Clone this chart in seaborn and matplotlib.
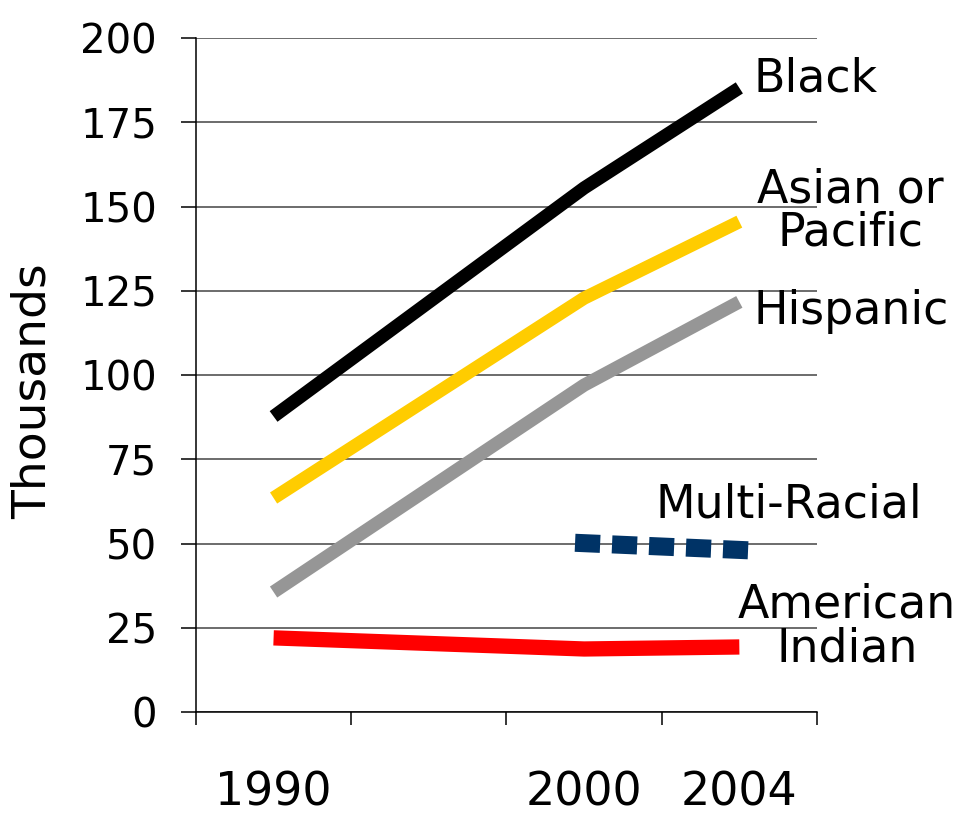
import matplotlib
matplotlib.use("Agg")
import matplotlib.pyplot as plt
import seaborn as sns
import pandas as pd

# Category slots on the x axis (the second slot has no label)
categories = ["1990", "", "2000", "2004"]

years_main = ["1990", "2000", "2004"]
black = [87.7, 155.5, 185.2]
asian_pacific = [63.5, 122.8, 145.5]
hispanic = [35.6, 97.0, 121.7]
american_indian = [22.0, 18.7, 19.3]

years_multi = ["2000", "2004"]
multi_racial = [50.1, 48.1]

y_ticks = [0, 25, 50, 75, 100, 125, 150, 175, 200]

sns.set_theme(style="white")
plt.rcParams["font.family"] = ["DejaVu Sans"]
plt.rcParams["text.color"] = "black"
plt.rcParams["xtick.color"] = "black"
plt.rcParams["ytick.color"] = "black"
plt.rcParams["axes.labelcolor"] = "black"

fig = plt.figure(figsize=(9.72, 8.14), dpi=100)
ax = fig.add_axes([0.2016, 0.1253, 0.6389, 0.8280])

pos = {c: i for i, c in enumerate(categories)}


def frame(years, values):
    return pd.DataFrame({"x": [pos[y] for y in years], "value": values})


series = [
    (years_main, black, "#000000", 9.5),
    (years_main, asian_pacific, "#FFCC00", 9.5),
    (years_main, hispanic, "#969696", 9.5),
    (years_main, american_indian, "#FF0000", 11.0),
]
for yrs, vals, color, lw in series:
    sns.lineplot(data=frame(yrs, vals), x="x", y="value", color=color,
                 linewidth=lw, ax=ax, legend=False)
    ax.lines[-1].set_solid_capstyle("butt")
    ax.lines[-1].set_solid_joinstyle("miter")

sns.lineplot(data=frame(years_multi, multi_racial), x="x", y="value",
             color="#003366", linewidth=13, ax=ax, legend=False)
mr = ax.lines[-1]
mr.set_linestyle((0, (0.39, 1.66)))
mr.set_dash_capstyle("projecting")

# Axes styling
ax.set_xlim(-0.5, 3.5)
ax.set_ylim(0, 200)
ax.set_yticks(y_ticks)
ax.set_yticklabels([str(v) for v in y_ticks])
ax.yaxis.grid(True, color="#444444", linewidth=1.1)
ax.xaxis.grid(False)
ax.set_axisbelow(True)

for side in ["top", "right"]:
    ax.spines[side].set_visible(False)
for side in ["left", "bottom"]:
    ax.spines[side].set_visible(True)
    ax.spines[side].set_color("black")
    ax.spines[side].set_linewidth(1.1)

ax.set_xticks([-0.5, 0.5, 1.5, 2.5, 3.5])
ax.set_xticklabels([])
ax.tick_params(axis="x", which="major", direction="out", length=9, width=1.1,
               color="black", bottom=True)
ax.set_xticks([0, 2, 3], minor=True)
ax.set_xticklabels(["1990", "2000", "2004"], minor=True, fontsize=33)
ax.tick_params(axis="x", which="minor", length=0, pad=42, bottom=True,
               labelcolor="black")

ax.tick_params(axis="y", direction="out", length=11, width=1.1, color="black",
               labelsize=29, pad=17, left=True, labelcolor="black")

ax.set_xlabel("")
ax.set_ylabel("Thousands", fontsize=34, color="black")
ax.yaxis.set_label_coords(-0.226, 0.476)

# Series labels
label_kw = dict(fontsize=33, color="black", clip_on=False)
ax.text(3.088, 187.9, "Black", ha="left", va="center", **label_kw)
ax.text(3.713, 148.5, "Asian or\nPacific", ha="center", va="center",
        linespacing=0.95, **label_kw)
ax.text(3.088, 118.8, "Hispanic", ha="left", va="center", **label_kw)
ax.text(2.457, 61.5, "Multi-Racial", ha="left", va="center", **label_kw)
ax.text(3.693, 25.2, "American\nIndian", ha="center", va="center",
        linespacing=0.95, **label_kw)

fig.savefig("out.png", dpi=100)
